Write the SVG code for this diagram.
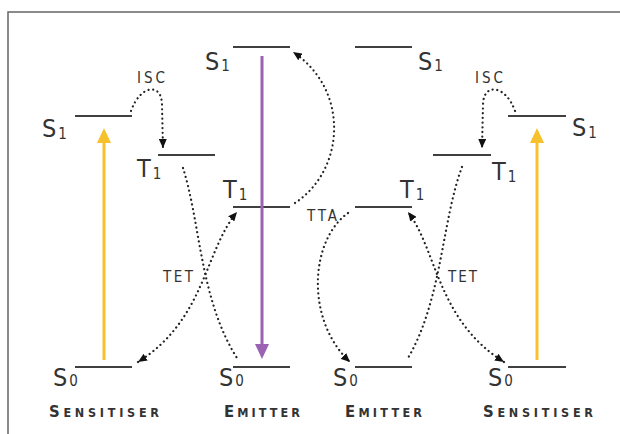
<svg xmlns="http://www.w3.org/2000/svg" width="620" height="434" viewBox="0 0 620 434">
<style>
.lvl{stroke:#404040;stroke-width:2.2;fill:none}
.lab{font-family:"DejaVu Sans Condensed","DejaVu Sans",sans-serif;font-size:25px;fill:#333}
.sub{font-size:15px}
.sm{font-family:"DejaVu Sans Condensed","DejaVu Sans",sans-serif;font-size:15px;fill:#333}
.cap{font-family:"DejaVu Sans Condensed","DejaVu Sans",sans-serif;font-size:12.5px;fill:#333;font-weight:bold}
.big{font-size:16.5px}
.dot{fill:none;stroke:#222;stroke-width:2.2;stroke-linecap:round;stroke-dasharray:0.1 4.6}
.yel{stroke:#f6c12c;stroke-width:3;fill:none}
.pur{stroke:#9b62b3;stroke-width:3;fill:none}
</style>
<defs>
<marker id="ah" markerUnits="userSpaceOnUse" markerWidth="9" markerHeight="8" refX="9" refY="4" orient="auto-start-reverse" viewBox="0 0 9 8">
<path d="M0,0 L9,4 L0,8 z" fill="#111"/>
</marker>
</defs>
<rect width="620" height="434" fill="#fff"/>
<path d="M8,434 V12 H620" fill="none" stroke="#666" stroke-width="1.5"/>

<g id="sensL-S1"><line class="lvl" x1="75" y1="116" x2="132" y2="116"/><text class="lab" x="42" y="137">S<tspan class="sub" dx="2" dy="2">1</tspan></text></g>
<g id="sensL-T1"><line class="lvl" x1="158" y1="155" x2="215" y2="155"/><text class="lab" x="137" y="177">T<tspan class="sub" dx="2" dy="2">1</tspan></text></g>
<g id="sensL-S0"><line class="lvl" x1="75" y1="367" x2="132" y2="367"/><text class="lab" x="53" y="386">S<tspan class="sub" dx="2" dy="0">0</tspan></text><text class="cap" x="49" y="417" textLength="110" lengthAdjust="spacing"><tspan class="big">S</tspan>ENSITISER</text></g>

<g id="emL-S1"><line class="lvl" x1="233" y1="47" x2="290" y2="47"/><text class="lab" x="205" y="70">S<tspan class="sub" dx="2" dy="1">1</tspan></text></g>
<g id="emL-T1"><line class="lvl" x1="233" y1="207" x2="290" y2="207"/><text class="lab" x="223" y="198">T<tspan class="sub" dx="2" dy="2">1</tspan></text></g>
<g id="emL-S0"><line class="lvl" x1="233" y1="367" x2="290" y2="367"/><text class="lab" x="219" y="386">S<tspan class="sub" dx="2" dy="0">0</tspan></text><text class="cap" x="224" y="417" textLength="76" lengthAdjust="spacing"><tspan class="big">E</tspan>MITTER</text></g>

<g id="emR-S1"><line class="lvl" x1="355" y1="47" x2="412" y2="47"/><text class="lab" x="418" y="70">S<tspan class="sub" dx="2" dy="1">1</tspan></text></g>
<g id="emR-T1"><line class="lvl" x1="355" y1="207" x2="412" y2="207"/><text class="lab" x="400" y="198">T<tspan class="sub" dx="2" dy="2">1</tspan></text></g>
<g id="emR-S0"><line class="lvl" x1="355" y1="367" x2="412" y2="367"/><text class="lab" x="333" y="386">S<tspan class="sub" dx="2" dy="0">0</tspan></text><text class="cap" x="345" y="417" textLength="77" lengthAdjust="spacing"><tspan class="big">E</tspan>MITTER</text></g>

<g id="sensR-S1"><line class="lvl" x1="508" y1="116" x2="566" y2="116"/><text class="lab" x="572" y="136">S<tspan class="sub" dx="2" dy="2">1</tspan></text></g>
<g id="sensR-T1"><line class="lvl" x1="433" y1="155" x2="491" y2="155"/><text class="lab" x="492" y="180">T<tspan class="sub" dx="2" dy="2">1</tspan></text></g>
<g id="sensR-S0"><line class="lvl" x1="508" y1="367" x2="566" y2="367"/><text class="lab" x="488" y="386">S<tspan class="sub" dx="2" dy="0">0</tspan></text><text class="cap" x="483" y="417" textLength="110" lengthAdjust="spacing"><tspan class="big">S</tspan>ENSITISER</text></g>

<g id="connectors">
<line class="yel" x1="104" y1="360" x2="104" y2="141"/><polygon points="104,128 97,143 111,143" fill="#f6c12c"/>
<line class="yel" x1="537" y1="360" x2="537" y2="141"/><polygon points="537,128 530,143 544,143" fill="#f6c12c"/>
<line class="pur" x1="262" y1="56" x2="262" y2="346"/><polygon points="262,359 255,344 269,344" fill="#9b62b3"/>
<path class="dot" d="M131,111 C140,85 162,82 162,105 L163,148" marker-end="url(#ah)"/>
<path class="dot" d="M515,111 C506,85 483,82 483,105 L482,148" marker-end="url(#ah)"/>
<path class="dot" d="M183,168 C200,220 200,300 237,358"/>
<path class="dot" d="M462,167 C442,220 442,300 408,358"/>
<path class="dot" d="M138,362 C205,320 205,250 237,212" marker-start="url(#ah)" marker-end="url(#ah)"/>
<path class="dot" d="M504,362 C437,320 437,250 408,212" marker-start="url(#ah)" marker-end="url(#ah)"/>
<path class="dot" d="M295,203 C345,170 350,90 293,52" marker-end="url(#ah)"/>
<path class="dot" d="M348,213 C310,240 305,320 350,362" marker-end="url(#ah)"/>
<text class="sm" x="137" y="83" textLength="28" lengthAdjust="spacing">ISC</text>
<text class="sm" x="475" y="83" textLength="28" lengthAdjust="spacing">ISC</text>
<text class="sm" x="307" y="221" textLength="30" lengthAdjust="spacing">TTA</text>
<text class="sm" x="163" y="282" textLength="30" lengthAdjust="spacing">TET</text>
<text class="sm" x="448" y="282" textLength="29" lengthAdjust="spacing">TET</text>
</g>
</svg>
